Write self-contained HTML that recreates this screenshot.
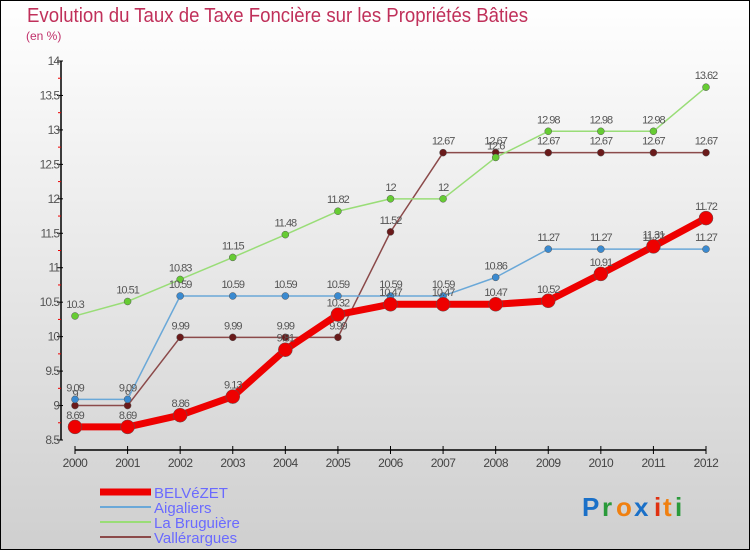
<!DOCTYPE html>
<html><head><meta charset="utf-8"><style>
body{margin:0;}
#wrap{width:750px;height:550px;position:relative;overflow:hidden;background:linear-gradient(#ffffff,#cfcfcf);font-family:"Liberation Sans",sans-serif;}
svg text{font-family:"Liberation Sans",sans-serif;}
</style></head><body>
<div id="wrap">
<svg id="chart" width="750" height="550">
<rect x="0.5" y="0.5" width="749" height="549" fill="none" stroke="#000"/>
<text x="27" y="22" font-size="20" fill="#c0305a" textLength="501" lengthAdjust="spacingAndGlyphs">Evolution du Taux de Taxe Foncière sur les Propriétés Bâties</text>
<text x="26" y="40" font-size="12" fill="#c0306a">(en %)</text>
<g id="axes"></g><g id="series"></g><g id="legend"></g>
<g font-size="26" font-weight="bold">
<text x="582" y="516" fill="#1a70c8">P</text><text x="602" y="516" fill="#2a9a3a">r</text><text x="616" y="516" fill="#f08010">o</text><text x="634" y="516" fill="#1a70c8">x</text><text x="654" y="516" fill="#e03010">i</text><text x="663" y="516" fill="#f08010">t</text><text x="675" y="516" fill="#2a9a3a">i</text></g>
</svg></div>
<script>
const years=[2000,2001,2002,2003,2004,2005,2006,2007,2008,2009,2010,2011,2012];
const yTicks=[8.5,9,9.5,10,10.5,11,11.5,12,12.5,13,13.5,14];
const belvezet=[8.69,8.69,8.86,9.13,9.81,10.32,10.47,10.47,10.47,10.52,10.91,11.31,11.72];
const aigaliers=[9.09,9.09,10.59,10.59,10.59,10.59,10.59,10.59,10.86,11.27,11.27,11.27,11.27];
const bruguiere=[10.3,10.51,10.83,11.15,11.48,11.82,12,12,12.6,12.98,12.98,12.98,13.62];
const vallerargues=[9,9,9.99,9.99,9.99,9.99,11.52,12.67,12.67,12.67,12.67,12.67,12.67];
const NS='http://www.w3.org/2000/svg';
const xs=i=>75+i*(706-75)/12;
const ys=v=>440-(v-8.5)*(440-61)/5.5;
function mk(t,a,p){const e=document.createElementNS(NS,t);for(const k in a)e.setAttribute(k,a[k]);p.appendChild(e);return e;}
const ax=document.getElementById('axes');
const yl=mk('line',{x1:61,y1:61,x2:61,y2:440,stroke:'#000','stroke-width':1.5},ax);


yTicks.forEach((v,i)=>{
 mk('line',{x1:57,y1:ys(v),x2:63,y2:ys(v),stroke:'#000'},ax);
 if(i<yTicks.length-1)mk('line',{x1:58,y1:ys(v+0.25),x2:61,y2:ys(v+0.25),stroke:'#e00'},ax);
 const t=mk('text',{x:59,y:ys(v)+4,'text-anchor':'end','font-size':12,fill:'#555','letter-spacing':'-1'},ax);
 t.textContent=String(v);
 
 
});
const xl=mk('line',{x1:75,y1:450,x2:706,y2:450,stroke:'#000','stroke-width':1.5},ax);


years.forEach((y,i)=>{
 mk('line',{x1:xs(i),y1:446,x2:xs(i),y2:454,stroke:'#000'},ax);
 const t=mk('text',{x:xs(i),y:467,'text-anchor':'middle','font-size':12,fill:'#444','letter-spacing':'-0.5'},ax);
 t.textContent=y;
 
 
});
const sg=document.getElementById('series');
function series(data,color,dot,w,r,name){
 const g=mk('g',{},sg);
 
 
 mk('polyline',{points:data.map((v,i)=>xs(i)+','+ys(v)).join(' '),fill:'none',stroke:color,'stroke-width':w,'stroke-linejoin':'round'},g);
 data.forEach((v,i)=>{
  const c=mk('circle',{cx:xs(i),cy:ys(v),r:r,fill:dot,stroke:'#555','stroke-width':0.5},g);
  
  
  const t=mk('text',{x:xs(i),y:ys(v)-8,'text-anchor':'middle','font-size':11,fill:'#555','letter-spacing':'-1'},g);
  t.textContent=String(v);
  
  
 });
}
series(vallerargues,'#8b4a4a','#6a1a1a',1.5,3.5,'series-vallerargues');
series(bruguiere,'#99dd77','#66cc33',1.5,3.5,'series-la-bruguiere');
series(aigaliers,'#6aa8d8','#3a8ad0',1.5,3.5,'series-aigaliers');
series(belvezet,'#ee0000','#ee0000',7,7,'series-belvezet');
const lg=document.getElementById('legend');
const items=[['BELVéZET','#ee0000',7],['Aigaliers','#6aa8d8',2],['La Bruguière','#99dd77',2],['Vallérargues','#8b4a4a',2]];
items.forEach((it,i)=>{
 const y=492+i*15;
 const g=mk('g',{},lg);
 
 
 mk('line',{x1:100,y1:y,x2:151,y2:y,stroke:it[1],'stroke-width':it[2]},g);
 const t=mk('text',{x:154,y:y+6,'font-size':15,fill:'#6a6aff'},g);
 t.textContent=it[0];
});
</script>
</body></html>
